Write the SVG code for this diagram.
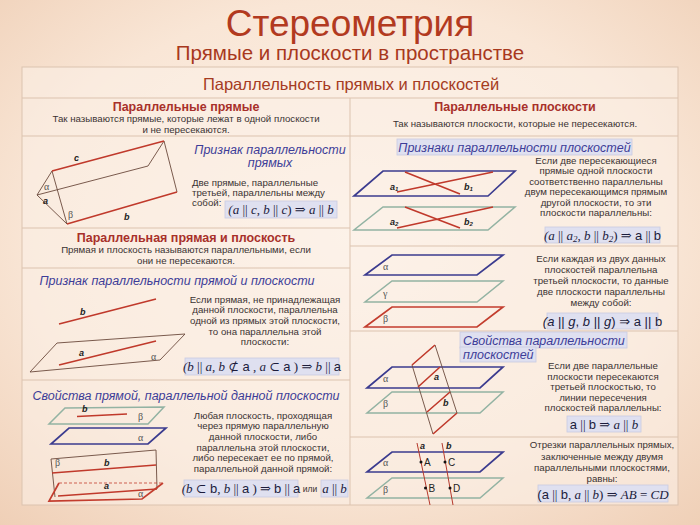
<svg xmlns="http://www.w3.org/2000/svg" width="700" height="525" viewBox="0 0 700 525">
<defs>
<radialGradient id="bg" cx="50%" cy="45%" r="75%">
<stop offset="0" stop-color="#fdf3ea"/>
<stop offset="0.6" stop-color="#f9e6d6"/>
<stop offset="1" stop-color="#efcfb6"/>
</radialGradient>
</defs>
<style>
.t{font-family:"Liberation Sans","DejaVu Sans",sans-serif}
.title{font-size:37px;fill:#b23a1f;text-anchor:middle}
.sub{font-size:20.5px;fill:#a8381d;text-anchor:middle}
.sec{font-size:16.5px;fill:#a53b22;text-anchor:middle}
.hd{font-size:12.5px;font-weight:bold;fill:#a8302a;text-anchor:middle}
.it{font-size:12.5px;font-style:italic;fill:#3d3d98}
.bd{font-size:9.7px;fill:#3a3232;text-anchor:middle}
.bl{font-size:9.7px;fill:#3a3232}
.div{stroke:#dcc3af;stroke-width:1;fill:none}
.box{fill:#dfe0f0;stroke:#c9cbe2;stroke-width:0.8}
.fm{font-family:"Liberation Serif","DejaVu Serif",serif;font-size:13px;fill:#1c1c3c;text-anchor:middle}
.fs{font-family:"Liberation Sans","DejaVu Sans",sans-serif}
.i{font-style:italic}
.pb{fill:none;stroke:#3b3b8f;stroke-width:1.7}
.pg{fill:none;stroke:#93b3a3;stroke-width:1.5}
.pr{fill:none;stroke:#c33d2e;stroke-width:1.7}
.rl{stroke:#c0392b;stroke-width:1.6;fill:none}
.ed{stroke:#6b4a3c;stroke-width:0.9;fill:none}
.gl{font-family:"Liberation Serif","DejaVu Serif",serif;font-size:10px;fill:#555}
.lb{font-family:"Liberation Sans","DejaVu Sans",sans-serif;font-size:9px;font-weight:bold;font-style:italic;fill:#222}
.pl{font-family:"Liberation Sans","DejaVu Sans",sans-serif;font-size:10px;fill:#222}
</style>
<rect width="700" height="525" fill="url(#bg)"/>
<rect x="22" y="67" width="656" height="438" fill="#fcf1e7" fill-opacity="0.55" stroke="#dcc3af"/>
<g id="grid">
<path class="div" d="M22 98H678M350 98V505M22 136H350M22 228H350M22 268H350M22 380H350M350 136H678M350 246H678M350 331H678M350 437H678"/>
</g>
<g id="header" class="t">
<text class="title" x="350" y="36">Стереометрия</text>
<text class="sub" x="350" y="60">Прямые и плоскости в пространстве</text>
<text class="sec" x="351" y="90">Параллельность прямых и плоскостей</text>
</g>
<g id="def-lines" class="t">
<text class="hd" x="186" y="111">Параллельные прямые</text>
<text class="bd" x="186" y="122">Так называются прямые, которые лежат в одной плоскости</text>
<text class="bd" x="186" y="133">и не пересекаются.</text>
</g>
<g id="def-planes" class="t">
<text class="hd" x="515" y="111">Параллельные плоскости</text>
<text class="bd" x="515" y="127">Так называются плоскости, которые не пересекаются.</text>
</g>
<g id="sign-lines">
<path class="ed" d="M37 195L52 171L67 224L37 195M164 141L148 166M164 141L177 192"/>
<path class="ed" d="M37 195L148 166" stroke-width="0.7"/>
<path class="rl" d="M52 171L164 141M67 224L177 192"/>
<text class="lb" x="74" y="161">c</text>
<text class="lb" x="43" y="204">a</text>
<text class="gl" x="44" y="190">α</text>
<text class="gl" x="68" y="218">β</text>
<text class="lb" x="124" y="220">b</text>
<text class="t it" x="270" y="154" text-anchor="middle">Признак параллельности</text>
<text class="t it" x="270" y="167" text-anchor="middle">прямых</text>
<text class="t bl" x="192" y="185.5">Две прямые, параллельные</text>
<text class="t bl" x="192" y="195.5">третьей, параллельны между</text>
<text class="t bl" x="192" y="205.5">собой:</text>
<rect class="box" x="225" y="201" width="112" height="17"/>
<text class="fm" x="281" y="214"><tspan class="i">(a</tspan> || <tspan class="i">c</tspan>, <tspan class="i">b</tspan> || <tspan class="i">c</tspan>) ⇒ <tspan class="i">a</tspan> || <tspan class="i">b</tspan></text>
</g>
<g id="def-line-plane" class="t">
<text class="hd" x="186" y="242">Параллельная прямая и плоскость</text>
<text class="bd" x="186" y="253">Прямая и плоскость называются параллельными, если</text>
<text class="bd" x="186" y="264">они не пересекаются.</text>
</g>
<g id="sign-line-plane">
<text class="t it" x="177" y="285" font-size="13" text-anchor="middle">Признак параллельности прямой и плоскости</text>
<path class="rl" d="M59 324L156 299"/>
<path class="ed" d="M57 343L185 334L160 360L30 372Z"/>
<path class="rl" d="M59 365L156 341"/>
<text class="lb" x="80" y="315">b</text>
<text class="lb" x="79" y="356">a</text>
<text class="gl" x="151" y="360">α</text>
<text class="t bd" x="265" y="302.5">Если прямая, не принадлежащая</text>
<text class="t bd" x="265" y="313">данной плоскости, параллельна</text>
<text class="t bd" x="265" y="324">одной из прямых этой плоскости,</text>
<text class="t bd" x="265" y="334.5">то она параллельна этой</text>
<text class="t bd" x="265" y="345">плоскости:</text>
<rect class="box" x="185" y="358" width="154" height="17"/>
<text class="fm" x="262" y="371"><tspan class="i">(b</tspan> || <tspan class="i">a</tspan>, <tspan class="i">b</tspan> ⊄ <tspan class="fs">a</tspan> , <tspan class="i">a</tspan> ⊂ <tspan class="fs">a</tspan> ) ⇒ <tspan class="i">b</tspan> || <tspan class="fs">a</tspan></text>
</g>
<g id="prop-line-plane">
<text class="t it" x="186" y="400" text-anchor="middle">Свойства прямой, параллельной данной плоскости</text>
<path class="pg" d="M65 408L164 407L148 424L49 424Z"/>
<path class="rl" d="M77 416.5L127 414"/>
<text class="lb" x="82" y="412">b</text>
<text class="gl" x="138" y="420">β</text>
<path class="pb" d="M69 428L166 428L148 444L51 444Z"/>
<text class="gl" x="138" y="441">α</text>
<path class="ed" d="M51 459L156 450L157 489M51 459L55 497"/>
<path class="rl" d="M52 473L156 465M58 496L157 489"/>
<path d="M59 483L163 483" stroke="#c33d2e" stroke-width="0.8" stroke-dasharray="3,2" fill="none"/>
<path class="pr" d="M163 483L142 499L49 501L59 483"/>
<text class="gl" x="55" y="466">β</text>
<text class="lb" x="104" y="466">b</text>
<text class="lb" x="104" y="489">a</text>
<text class="gl" x="138" y="497">α</text>
<text class="t bd" x="263" y="418.5">Любая плоскость, проходящая</text>
<text class="t bd" x="263" y="429">через прямую параллельную</text>
<text class="t bd" x="263" y="440">данной плоскости, либо</text>
<text class="t bd" x="263" y="450.5">параллельна этой плоскости,</text>
<text class="t bd" x="263" y="461">либо пересекает ее по прямой,</text>
<text class="t bd" x="263" y="471.5">параллельной данной прямой:</text>
<rect class="box" x="184" y="480" width="114" height="17"/>
<text class="fm" x="241" y="493"><tspan class="i">(b</tspan> ⊂ <tspan class="fs">b</tspan>, <tspan class="i">b</tspan> || <tspan class="fs">a</tspan> ) ⇒ <tspan class="fs">b</tspan> || <tspan class="fs">a</tspan></text>
<text class="t" x="310" y="492" font-size="8.5" fill="#3a3232" text-anchor="middle">или</text>
<rect class="box" x="321" y="480" width="27" height="17"/>
<text class="fm" x="334.5" y="493"><tspan class="i">a</tspan> || <tspan class="i">b</tspan></text>
</g>
<g id="sign-planes">
<rect class="box" x="397" y="139" width="235" height="16"/>
<text class="t it" x="514.5" y="151.5" text-anchor="middle">Признаки параллельности плоскостей</text>
<path class="pb" d="M383 171L515 171L488 196L354 196Z"/>
<path class="rl" d="M405 172L460 194M397 192L493 172" stroke-width="1.3"/>
<text class="lb" x="390" y="190">a<tspan font-size="6" dy="1">1</tspan></text>
<text class="lb" x="464" y="190">b<tspan font-size="6" dy="1">1</tspan></text>
<path class="pg" d="M383 207L515 207L488 230L354 230Z"/>
<path class="rl" d="M405 207L460 228M397 228L493 207" stroke-width="1.3"/>
<text class="lb" x="390" y="225">a<tspan font-size="6" dy="1">2</tspan></text>
<text class="lb" x="464" y="225">b<tspan font-size="6" dy="1">2</tspan></text>
<text class="t bd" x="596" y="163.5">Если две пересекающиеся</text>
<text class="t bd" x="596" y="174">прямые одной плоскости</text>
<text class="t bd" x="596" y="184.5">соответственно параллельны</text>
<text class="t bd" x="596" y="195">двум пересекающимся прямым</text>
<text class="t bd" x="596" y="205.5">другой плоскости, то эти</text>
<text class="t bd" x="596" y="216">плоскости параллельны:</text>
<rect class="box" x="545" y="227" width="115" height="16"/>
<text class="fm" x="602.5" y="239.5"><tspan class="i">(a</tspan> || <tspan class="i">a<tspan font-size="9" dy="2">2</tspan></tspan><tspan dy="-2">, </tspan><tspan class="i">b</tspan> || <tspan class="i">b<tspan font-size="9" dy="2">2</tspan></tspan><tspan dy="-2">) ⇒ </tspan><tspan class="fs">a</tspan> || <tspan class="fs">b</tspan></text>
</g>
<g id="three-planes">
<path class="pb" d="M392 255L503 255L477 275L365 275Z"/>
<path class="pg" d="M392 281L503 281L477 302L365 302Z"/>
<path class="pr" d="M392 307L503 307L477 327L365 327Z"/>
<text class="gl" x="383" y="270">α</text>
<text class="gl" x="383" y="297">γ</text>
<text class="gl" x="383" y="322">β</text>
<text class="t bd" x="601" y="261.5">Если каждая из двух данных</text>
<text class="t bd" x="601" y="272.5">плоскостей параллельна</text>
<text class="t bd" x="601" y="283.5">третьей плоскости, то данные</text>
<text class="t bd" x="601" y="294.5">две плоскости параллельны</text>
<text class="t bd" x="601" y="305.5">между собой:</text>
<rect class="box" x="547" y="313" width="111" height="16"/>
<text class="fm fs" x="602.5" y="325.5"><tspan class="i">(a</tspan> || <tspan class="i">g</tspan>, <tspan class="i">b</tspan> || <tspan class="i">g</tspan>) ⇒ a || b</text>
</g>
<g id="prop-planes">
<rect class="box" x="460" y="332" width="167" height="16" stroke="none"/>
<rect class="box" x="460" y="347" width="76" height="15" stroke="none"/>
<text class="t it" x="463" y="345">Свойства параллельности</text>
<text class="t it" x="463" y="359">плоскостей</text>
<path class="pb" d="M392 367L503 367L480 388L367 388Z"/>
<path class="pg" d="M392 392L503 392L480 413L367 413Z"/>
<path class="ed" d="M412 365L433 434M435 345L457 413"/>
<path class="rl" d="M435 345L412 365M457 413L433 434" stroke-width="1.2"/>
<path class="rl" d="M418 387L440 367M427 412L450 392" stroke-width="1.5"/>
<text class="lb" x="434" y="380">a</text>
<text class="lb" x="443" y="406">b</text>
<text class="gl" x="383" y="382">α</text>
<text class="gl" x="383" y="407">β</text>
<text class="t bd" x="603" y="369">Если две параллельные</text>
<text class="t bd" x="603" y="379.5">плоскости пересекаются</text>
<text class="t bd" x="603" y="390">третьей плоскостью, то</text>
<text class="t bd" x="603" y="400.5">линии пересечения</text>
<text class="t bd" x="603" y="411">плоскостей параллельны:</text>
<rect class="box" x="567" y="416" width="74" height="16"/>
<text class="fm" x="604" y="428.5"><tspan class="fs">a</tspan> || <tspan class="fs">b</tspan> ⇒ <tspan class="i">a</tspan> || <tspan class="i">b</tspan></text>
</g>
<g id="segments">
<path class="pb" d="M392 452L503 452L480 472L367 472Z"/>
<path class="pg" d="M392 478L503 478L480 498L367 498Z"/>
<path d="M417 443L430 505M442 443L453 505" stroke="#b5392c" stroke-width="1" fill="none"/>
<circle cx="421" cy="462" r="1.5" fill="#111"/>
<circle cx="445" cy="462" r="1.5" fill="#111"/>
<circle cx="425.5" cy="488" r="1.5" fill="#111"/>
<circle cx="450" cy="488" r="1.5" fill="#111"/>
<text class="lb" x="420" y="449">a</text>
<text class="lb" x="446" y="449">b</text>
<text class="pl" x="424" y="466">A</text>
<text class="pl" x="448" y="466">C</text>
<text class="pl" x="428.5" y="492">B</text>
<text class="pl" x="453" y="492">D</text>
<text class="gl" x="383" y="466">α</text>
<text class="gl" x="383" y="493">β</text>
<text class="t bd" x="602" y="448">Отрезки параллельных прямых,</text>
<text class="t bd" x="602" y="459.5">заключенные между двумя</text>
<text class="t bd" x="602" y="471">параллельными плоскостями,</text>
<text class="t bd" x="602" y="482">равны:</text>
<rect class="box" x="538" y="485" width="130" height="17"/>
<text class="fm" x="603" y="498.5"><tspan class="fs">(a</tspan> || <tspan class="fs">b</tspan>, <tspan class="i">a</tspan> || <tspan class="i">b</tspan>) ⇒ <tspan class="i">AB</tspan> = <tspan class="i">CD</tspan></text>
</g>
</svg>
